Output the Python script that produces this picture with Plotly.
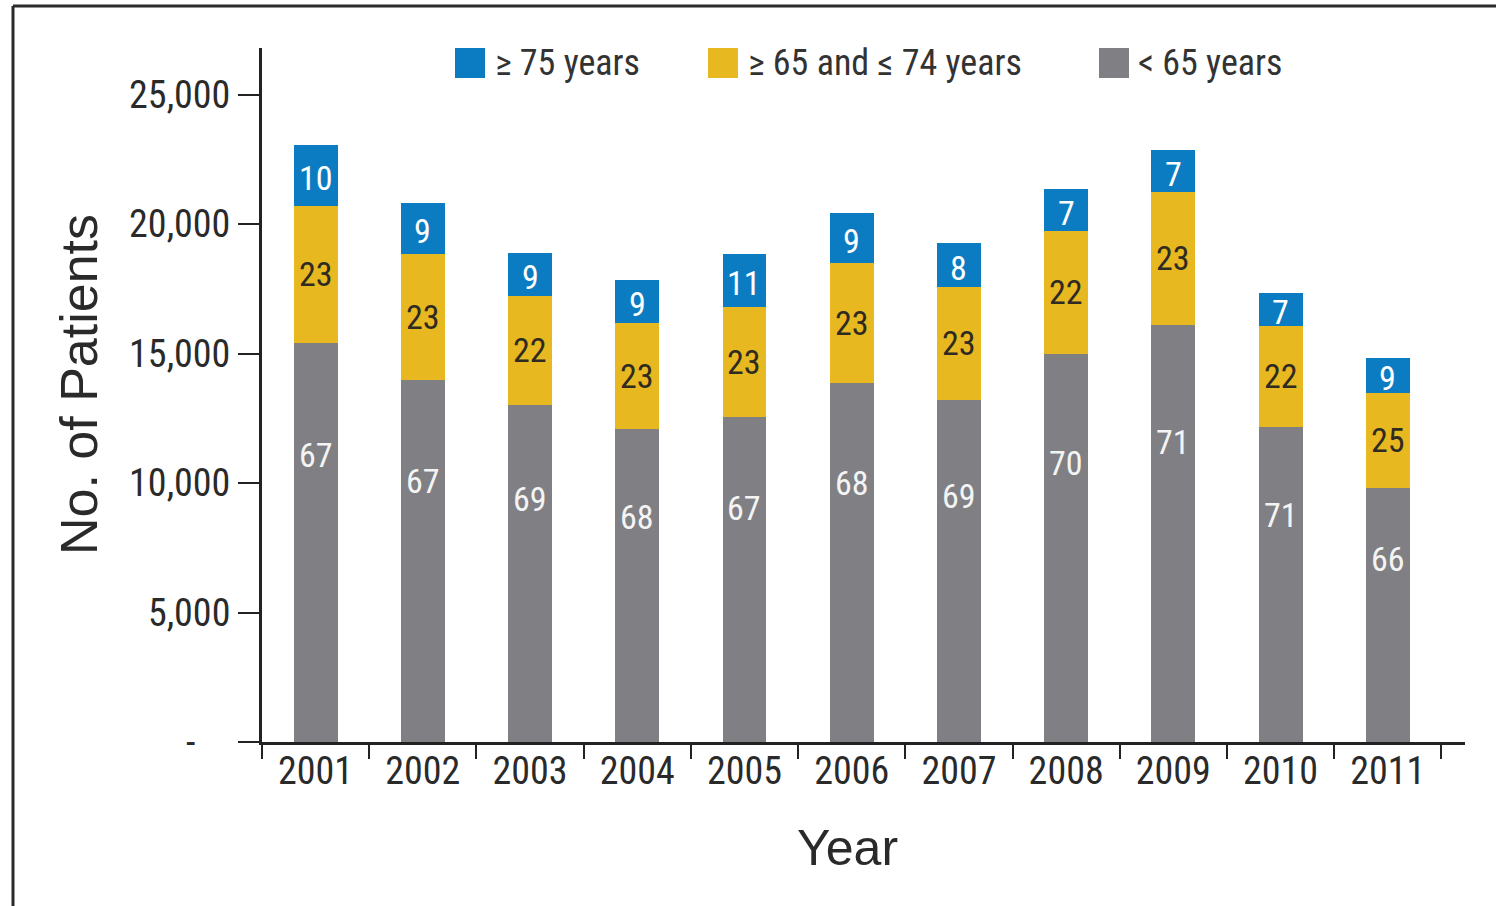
import plotly.graph_objects as go

years = ["2001", "2002", "2003", "2004", "2005", "2006", "2007", "2008", "2009", "2010", "2011"]
# cumulative levels (patients)
totals = [23070, 20830, 18890, 17850, 18860, 20440, 19280, 21370, 22870, 17350, 14840]
yellow_tops = [20710, 18860, 17230, 16190, 16810, 18510, 17580, 19740, 21250, 16070, 13490]
under65 = [15420, 13990, 13020, 12090, 12560, 13870, 13210, 14990, 16110, 12170, 9810]

age65_74 = [t - g for t, g in zip(yellow_tops, under65)]
age75 = [t - y for t, y in zip(totals, yellow_tops)]

pct_75 = ["10", "9", "9", "9", "11", "9", "8", "7", "7", "7", "9"]
pct_65_74 = ["23", "23", "22", "23", "23", "23", "23", "22", "23", "22", "25"]
pct_u65 = ["67", "67", "69", "68", "67", "68", "69", "70", "71", "71", "66"]

y_ticks = [0, 5000, 10000, 15000, 20000, 25000]
y_ticktext = ["-\u00a0\u00a0\u00a0\u00a0", "5,000", "10,000", "15,000", "20,000", "25,000"]

series_names = ["< 65 years", "\u2265 65 and \u2264 74 years", "\u2265 75 years"]
x_title = "Year"
y_title = "No. of Patients"

BLUE = "#0b7cc2"
YELLOW = "#e8b821"
GRAY = "#808084"
NARROW = "Liberation Sans Narrow, Arial Narrow, Roboto Condensed, sans-serif"
REG = "Liberation Sans, Arial, Helvetica, sans-serif"

W, H = 1496, 906
L, R, T, B = 262, 31, 48, 164
PW, PH = W - L - R, H - T - B


def px(xp):
    return (xp - L) / PW


def py(yp):
    return (H - B - yp) / PH


fig = go.Figure()
fig.add_trace(go.Bar(x=years, y=under65, name=series_names[0], marker_color=GRAY,
                     marker_line_width=0, showlegend=False))
fig.add_trace(go.Bar(x=years, y=age65_74, name=series_names[1], marker_color=YELLOW,
                     marker_line_width=0, showlegend=False))
fig.add_trace(go.Bar(x=years, y=age75, name=series_names[2], marker_color=BLUE,
                     marker_line_width=0, showlegend=False))

annotations = []
for i, yr in enumerate(years):
    annotations.append(dict(x=i, y=under65[i] * 0.72, xref="x", yref="y", text=pct_u65[i],
                            showarrow=False, font=dict(family=NARROW, size=34, color="#f4f4f4")))
    annotations.append(dict(x=i, y=under65[i] + age65_74[i] / 2, xref="x", yref="y", text=pct_65_74[i],
                            showarrow=False, font=dict(family=NARROW, size=34, color="#2f2a22")))
    annotations.append(dict(x=i, y=yellow_tops[i] + age75[i] / 2, xref="x", yref="y", text=pct_75[i],
                            showarrow=False, yshift=-3, font=dict(family=NARROW, size=34, color="#ffffff")))

# manual legend (large swatches)
legend_items = [(455, 493, BLUE, series_names[2]),
                (708, 746, YELLOW, series_names[1]),
                (1099, 1136, GRAY, series_names[0])]
shapes = []
for sx, tx, col, name in legend_items:
    shapes.append(dict(type="rect", xref="paper", yref="paper",
                       x0=px(sx), x1=px(sx + 30), y0=py(78), y1=py(48),
                       fillcolor=col, line_width=0))
    annotations.append(dict(x=px(tx), y=py(63), xref="paper", yref="paper", text=name,
                            xanchor="left", yanchor="middle", showarrow=False,
                            font=dict(family=NARROW, size=36, color="#333333")))

# axis titles
annotations.append(dict(x=px(847), y=py(848), xref="paper", yref="paper", text=x_title,
                        xanchor="center", yanchor="middle", showarrow=False,
                        font=dict(family=REG, size=50, color="#2a2a2a")))
annotations.append(dict(x=px(79), y=py(385), xref="paper", yref="paper", text=y_title,
                        textangle=-90, xanchor="center", yanchor="middle", showarrow=False,
                        font=dict(family=REG, size=52, color="#2a2a2a")))

# outer frame lines
shapes.append(dict(type="line", xref="paper", yref="paper", x0=px(13), x1=px(W + 5),
                   y0=py(6), y1=py(6), line=dict(color="#2b2b2b", width=3)))
shapes.append(dict(type="line", xref="paper", yref="paper", x0=px(13), x1=px(13),
                   y0=py(6), y1=py(H + 5), line=dict(color="#2b2b2b", width=3)))

fig.update_layout(
    width=W, height=H, autosize=False,
    margin=dict(l=L, r=R, t=T, b=B),
    barmode="stack", bargap=0.59,
    paper_bgcolor="white", plot_bgcolor="white",
    font=dict(family=NARROW, color="#222222"),
    annotations=annotations, shapes=shapes,
    xaxis=dict(type="category", range=[-0.5, 10.72], tickson="boundaries",
               ticks="outside", ticklen=14, tickwidth=2, tickcolor="#222222",
               showline=True, linecolor="#222222", linewidth=3,
               showgrid=False, zeroline=False, ticklabelstandoff=-7,
               tickfont=dict(family=NARROW, size=38, color="#2a2a2a")),
    yaxis=dict(range=[0, 26800], tickvals=y_ticks, ticktext=y_ticktext,
               ticks="outside", ticklen=21, tickwidth=2, tickcolor="#222222",
               showline=True, linecolor="#222222", linewidth=3,
               showgrid=False, zeroline=False,
               tickfont=dict(family=NARROW, size=38, color="#2a2a2a")),
)

fig.write_html("out.html")
